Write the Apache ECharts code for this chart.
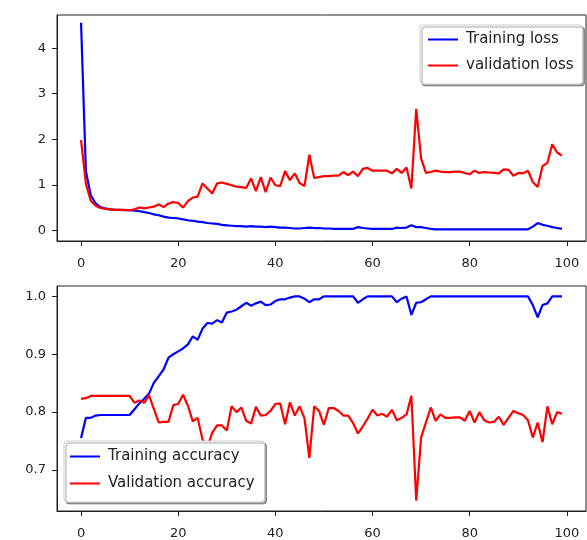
<!DOCTYPE html>
<html>
<head>
<meta charset="utf-8">
<script src="https://cdn.jsdelivr.net/npm/echarts@6/dist/echarts.min.js"></script>
<style>
html,body{margin:0;padding:0;background:#fff;}
#c{width:587px;height:540px;}
</style>
</head>
<body>
<div id="c"></div>
<script>
const epochs = Array.from({length: 100}, (_, i) => i);

const trainLoss = [4.56,1.30,0.77,0.59,0.51,0.48,0.46,0.45,0.45,0.44,
  0.44,0.43,0.42,0.40,0.38,0.35,0.33,0.30,0.28,0.27,
  0.26,0.24,0.22,0.21,0.19,0.18,0.16,0.15,0.14,0.12,
  0.11,0.10,0.09,0.09,0.08,0.09,0.08,0.08,0.07,0.08,
  0.07,0.06,0.06,0.05,0.04,0.04,0.05,0.06,0.05,0.05,
  0.04,0.04,0.03,0.03,0.03,0.03,0.03,0.07,0.05,0.04,
  0.03,0.03,0.03,0.03,0.03,0.06,0.05,0.06,0.11,0.07,
  0.07,0.05,0.03,0.02,0.02,0.02,0.02,0.02,0.02,0.02,
  0.02,0.02,0.02,0.02,0.02,0.02,0.02,0.02,0.02,0.02,
  0.02,0.02,0.02,0.08,0.16,0.12,0.10,0.07,0.05,0.03];

const valLoss = [1.98,1.02,0.65,0.54,0.49,0.47,0.46,0.45,0.45,0.45,
  0.44,0.46,0.50,0.48,0.50,0.52,0.57,0.51,0.59,0.62,
  0.60,0.50,0.64,0.72,0.74,1.03,0.92,0.81,1.03,1.05,
  1.02,0.99,0.96,0.95,0.93,1.14,0.86,1.17,0.84,1.16,
  0.99,0.97,1.30,1.10,1.25,1.04,0.97,1.66,1.15,1.17,
  1.19,1.19,1.20,1.20,1.28,1.21,1.29,1.19,1.35,1.37,
  1.31,1.31,1.31,1.31,1.25,1.35,1.26,1.38,0.92,2.67,
  1.58,1.26,1.28,1.31,1.29,1.28,1.28,1.29,1.29,1.26,
  1.23,1.31,1.26,1.28,1.27,1.26,1.25,1.34,1.33,1.20,
  1.26,1.25,1.31,1.06,0.95,1.41,1.48,1.89,1.71,1.64];

const trainAcc = [0.755,0.790,0.790,0.794,0.795,0.795,0.795,0.795,0.795,0.795,
  0.795,0.805,0.815,0.823,0.832,0.851,0.862,0.874,0.894,0.900,
  0.905,0.910,0.917,0.931,0.925,0.944,0.954,0.953,0.959,0.955,
  0.972,0.974,0.977,0.983,0.989,0.984,0.988,0.991,0.985,0.986,
  0.992,0.995,0.995,0.998,1.000,1.000,0.996,0.990,0.995,0.995,
  1.000,1.000,1.000,1.000,1.000,1.000,1.000,0.989,0.995,1.000,
  1.000,1.000,1.000,1.000,1.000,0.990,0.996,1.000,0.968,0.989,
  0.990,0.995,1.000,1.000,1.000,1.000,1.000,1.000,1.000,1.000,
  1.000,1.000,1.000,1.000,1.000,1.000,1.000,1.000,1.000,1.000,
  1.000,1.000,1.000,0.985,0.964,0.985,0.988,1.000,1.000,1.000];

const valAcc = [0.823,0.824,0.828,0.828,0.828,0.828,0.828,0.828,0.828,0.828,
  0.828,0.816,0.820,0.816,0.829,0.805,0.782,0.783,0.783,0.812,
  0.814,0.830,0.811,0.784,0.790,0.753,0.740,0.764,0.777,0.777,
  0.768,0.810,0.800,0.808,0.785,0.780,0.809,0.794,0.795,0.802,
  0.814,0.815,0.779,0.817,0.794,0.810,0.789,0.721,0.810,0.802,
  0.778,0.807,0.807,0.802,0.794,0.794,0.781,0.763,0.775,0.789,
  0.804,0.794,0.797,0.792,0.804,0.786,0.790,0.796,0.828,0.647,
  0.756,0.782,0.808,0.785,0.796,0.790,0.790,0.791,0.791,0.785,
  0.802,0.782,0.800,0.786,0.782,0.783,0.792,0.778,0.790,0.802,
  0.798,0.795,0.786,0.756,0.782,0.748,0.810,0.779,0.800,0.797];

const xTicks = [0, 20, 40, 60, 80, 100];
const lossTicks = [0, 1, 2, 3, 4];
const accTicks = [0.7, 0.8, 0.9, 1.0];

const FONT = 'DejaVu Sans';
const pair = arr => epochs.map((e, i) => [e, arr[i]]);

function xAxis(gi) {
  return {
    type: 'value', gridIndex: gi, min: -4.95, max: 103.95,
    axisLine: {show: true, onZero: false, lineStyle: {color: '#222', width: 1}},
    axisTick: {show: true, length: 5, customValues: xTicks, lineStyle: {color: '#222'}},
    axisLabel: {customValues: xTicks, margin: 16, fontFamily: FONT, fontSize: 13, color: '#222'},
    splitLine: {show: false}
  };
}
function yAxis(gi, min, max, ticks, fmt) {
  return {
    type: 'value', gridIndex: gi, min: min, max: max,
    axisLine: {show: true, onZero: false, lineStyle: {color: '#222', width: 1}},
    axisTick: {show: true, length: 5, customValues: ticks, lineStyle: {color: '#222'}},
    axisLabel: {customValues: ticks, margin: 11, fontFamily: FONT, fontSize: 13, color: '#222', formatter: fmt},
    splitLine: {show: false}
  };
}
function line(name, data, color, xi) {
  return {
    name: name, type: 'line', xAxisIndex: xi, yAxisIndex: xi,
    data: pair(data), symbol: 'none', showSymbol: false,
    lineStyle: {color: color, width: 2.2}, itemStyle: {color: color},
    animation: false
  };
}
const legendBase = {
  orient: 'vertical', itemWidth: 30, itemHeight: 14,
  backgroundColor: '#fff', borderColor: '#ccc', borderWidth: 1, borderRadius: 3,
  shadowColor: 'rgba(0,0,0,0.35)', shadowBlur: 0, shadowOffsetX: 2, shadowOffsetY: 2,
  textStyle: {fontFamily: FONT, fontSize: 15, color: '#222', padding: [0, 0, 0, 3]},
  icon: 'path://M0,6 L30,6 L30,8 L0,8 Z'
};

const chart = echarts.init(document.getElementById('c'), null, {renderer: 'canvas'});
chart.setOption({
  animation: false,
  backgroundColor: '#fff',
  grid: [
    {left: 57, right: 1, top: 15, height: 226, show: true, borderColor: '#222', borderWidth: 1},
    {left: 57, right: 1, top: 286, height: 226, show: true, borderColor: '#222', borderWidth: 1}
  ],
  xAxis: [xAxis(0), xAxis(1)],
  yAxis: [
    yAxis(0, -0.235, 4.73, lossTicks, v => String(Math.round(v))),
    yAxis(1, 0.629, 1.018, accTicks, v => v.toFixed(1))
  ],
  legend: [
    Object.assign({}, legendBase, {left: 420, top: 25, itemGap: 11, padding: [7, 9, 11, 8],
      data: ['Training loss', 'validation loss']}),
    Object.assign({}, legendBase, {left: 64, top: 441, itemGap: 12, padding: [8, 10, 11, 6],
      data: ['Training accuracy', 'Validation accuracy']})
  ],
  series: [
    line('Training loss', trainLoss, '#0000ff', 0),
    line('validation loss', valLoss, '#ff0000', 0),
    line('Training accuracy', trainAcc, '#0000ff', 1),
    line('Validation accuracy', valAcc, '#ff0000', 1)
  ]
});
</script>
</body>
</html>
